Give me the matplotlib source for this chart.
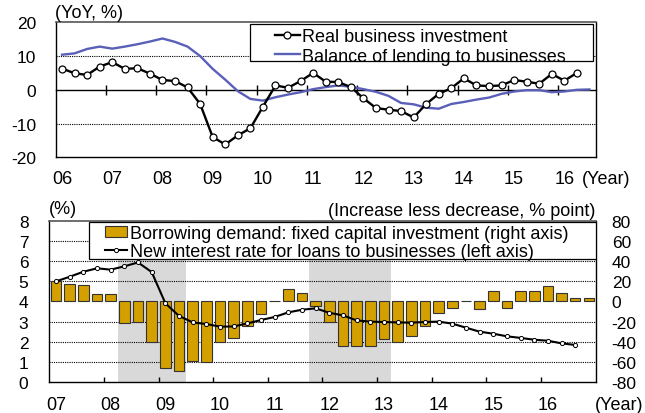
import numpy as np
import matplotlib
matplotlib.use("Agg")
import matplotlib.pyplot as plt
from matplotlib.patches import Rectangle, Patch
from matplotlib.lines import Line2D

plt.rcParams["font.family"] = ["Liberation Sans", "DejaVu Sans"]
plt.rcParams["font.size"] = 13
plt.rcParams["axes.unicode_minus"] = False

# --- top panel: quarterly, from 2006Q1 (YoY, %) ---
invest = [6.3, 4.9, 4.4, 6.9, 8.2, 6.2, 6.4, 4.8, 2.9, 2.6,
          0.7, -4.2, -14.0, -16.2, -13.5, -11.4, -5.0, 1.3, 0.6, 2.6,
          5.0, 2.4, 2.3, 0.8, -2.5, -5.4, -5.9, -6.3, -8.2, -4.2,
          -1.2, 0.5, 3.4, 1.3, 1.1, 1.3, 2.9, 2.4, 1.8, 4.7,
          2.7, 5.0]
lending = [10.4, 10.8, 12.1, 12.8, 12.2, 12.8, 13.5, 14.3, 15.2, 14.2,
           12.8, 10.0, 6.2, 3.0, -0.4, -2.7, -3.2, -2.2, -1.4, -0.7,
           0.2, 0.8, 1.3, 0.9, 0.2, -0.6, -1.8, -3.9, -4.3, -5.3,
           -5.6, -4.2, -3.6, -2.9, -2.3, -1.2, -0.5, -0.1, -0.1, -0.7,
           -0.5, 0.0, 0.1]
top_years = ["06", "07", "08", "09", "10", "11", "12", "13", "14", "15", "16"]

# --- bottom panel: quarterly, from 2007Q1 ---
borrow = [20, 17, 16.5, 7.5, 7, -21.5, -20.5, -40, -66.5, -69,
          -59.5, -60, -40, -36, -24, -12.5, 0, 12, 8.5, -4.5,
          -20, -44, -44, -44, -37, -40, -34, -24, -11, -6,
          0, -7.5, 10, -6.5, 10.5, 10.5, 15, 8, 3, 3.5]
rate = [5.0, 5.23, 5.48, 5.65, 5.58, 5.75, 5.94, 5.46, 3.91, 3.28,
        2.96, 2.88, 2.75, 2.76, 2.91, 3.08, 3.23, 3.46, 3.59, 3.66,
        3.44, 3.31, 3.06, 3.0, 2.98, 2.96, 2.95, 2.98, 3.0, 2.9,
        2.7, 2.5, 2.4, 2.27, 2.19, 2.1, 2.05, 1.92, 1.84]
bottom_years = ["07", "08", "09", "10", "11", "12", "13", "14", "15", "16"]
shaded = [(2008.25, 2009.5), (2011.75, 2013.25)]

BLUE = "#5a5fb8"
GOLD = "#d4a000"


def quarters(start, n):
    return start + (np.arange(n) + 0.5) / 4


fig = plt.figure(figsize=(6.45, 4.14), dpi=100, facecolor="white")

# ---------------- top panel ----------------
ax1 = fig.add_axes([0.0864, 0.6176, 0.8372, 0.3261])
ax1.set_xlim(2006, 2016.75)
ax1.set_ylim(-20, 20)
for v in (-10, 10):
    ax1.axhline(v, color="k", lw=0.8, ls=(0, (1, 1)), zorder=1)
ax1.plot(quarters(2006, len(lending)), lending, color=BLUE, lw=1.7, zorder=3)
ax1.plot(quarters(2006, len(invest)), invest, color="k", lw=1.7, marker="o",
         ms=5, mfc="white", mec="k", mew=0.9, zorder=4)

ax1.set_yticks([-20, -10, 0, 10, 20])
ax1.set_yticklabels(["-20", "-10", "0", "10", "20"])
ax1.tick_params(axis="y", length=0, pad=14, labelsize=12.5)
ax1.set_xticks(np.arange(2006, 2017) + 0.125)
ax1.set_xticklabels(top_years)
ax1.tick_params(axis="x", length=0, pad=9)
for s in ("left", "right", "bottom"):
    ax1.spines[s].set_color("k")
    ax1.spines[s].set_linewidth(1.0)
ax1.spines["top"].set_color("#555555")
ax1.spines["top"].set_linewidth(1.2)

# zero line with year ticks crossing it
zero = ax1.secondary_xaxis(0.5)
zero.set_xticks(np.arange(2007, 2017))
zero.tick_params(direction="inout", length=7, width=1, labeltop=False, labelbottom=False)
for s in zero.spines.values():
    s.set_color("k")
    s.set_linewidth(1.0)

ax1.add_patch(Rectangle((0.3598, 0.711), 0.6358, 0.274, transform=ax1.transAxes,
                        facecolor="white", edgecolor="k", lw=0.9, zorder=5))
h_top = [Line2D([], [], color="k", lw=1.7, marker="o", ms=5, mfc="white", mec="k", mew=0.9),
         Line2D([], [], color=BLUE, lw=1.7)]
leg1 = ax1.legend(h_top, ["Real business investment", "Balance of lending to businesses"],
                  loc="upper left", bbox_to_anchor=(0.406, 0.955), frameon=False,
                  borderpad=0, borderaxespad=0, handlelength=1.38, handletextpad=0.1,
                  labelspacing=0.13, numpoints=1, fontsize=13)
leg1.set_zorder(6)

fig.text(55 / 645, 1 - 13.3 / 414, "(YoY, %)", ha="left", va="center")
fig.text(606 / 645, 1 - 180 / 414, "(Year)", ha="center", va="center")

# ---------------- bottom panel ----------------
ax2 = fig.add_axes([0.0764, 0.0749, 0.8471, 0.3889])
tw = ax2.twinx()
ax2.set_zorder(tw.get_zorder() + 1)
ax2.patch.set_visible(False)
tw.patch.set_visible(True)
tw.patch.set_facecolor("white")

ax2.set_xlim(2007, 2017)
ax2.set_ylim(0, 8)
tw.set_ylim(-80, 80)

for a, b in shaded:
    tw.axvspan(a, b, color="#d9d9d9", lw=0, zorder=0)
for v in (-60, -40, -20, 20, 40, 60):
    tw.axhline(v, color="k", lw=0.8, ls=(0, (1, 1)), zorder=1)
tw.bar(quarters(2007, len(borrow)), borrow, width=0.195, color=GOLD,
       edgecolor="#333333", lw=0.8, zorder=2)
ax2.plot(quarters(2007, len(rate)), rate, color="k", lw=1.5, marker="o",
         ms=3, mfc="white", mec="k", mew=0.7, zorder=3)

ax2.set_yticks(range(0, 9))
ax2.tick_params(axis="y", length=0, pad=15, labelsize=12.5)
tw.set_yticks(range(-80, 81, 20))
tw.set_yticklabels([str(v) for v in range(-80, 81, 20)])
tw.tick_params(axis="y", length=0, pad=11.5, labelsize=12.5)

ax2.set_xticks(np.arange(2008, 2017))
ax2.set_xticklabels([])
ax2.tick_params(axis="x", which="major", direction="in", length=3.5, width=1)
ax2.set_xticks(np.arange(2007, 2017) + 0.125, minor=True)
ax2.set_xticklabels(bottom_years, minor=True)
ax2.tick_params(axis="x", which="minor", length=0, pad=10)

for s in tw.spines.values():
    s.set_visible(False)
for s in ("left", "right", "bottom"):
    ax2.spines[s].set_color("k")
    ax2.spines[s].set_linewidth(1.0)
ax2.spines["top"].set_color("#555555")
ax2.spines["top"].set_linewidth(1.2)

ax2.add_patch(Rectangle((0.0732, 0.762), 0.9268, 0.232, transform=ax2.transAxes,
                        facecolor="white", edgecolor="k", lw=0.9, zorder=5))
h_bot = [Patch(facecolor=GOLD, edgecolor="#333333", lw=0.8),
         Line2D([], [], color="k", lw=1.5, marker="o", ms=3, mfc="white", mec="k", mew=0.7)]
leg2 = ax2.legend(h_bot, ["Borrowing demand: fixed capital investment (right axis)",
                          "New interest rate for loans to businesses (left axis)"],
                  loc="upper left", bbox_to_anchor=(0.1026, 0.975), frameon=False,
                  borderpad=0, borderaxespad=0, handlelength=1.22, handleheight=0.55,
                  handletextpad=0.15, labelspacing=0.06, numpoints=1, fontsize=13)
leg2.set_zorder(6)

fig.text(49.3 / 645, 1 - 210 / 414, "(%)", ha="left", va="center")
fig.text(595.7 / 645, 1 - 211 / 414, "(Increase less decrease, % point)", ha="right", va="center")
fig.text(619 / 645, 1 - 406 / 414, "(Year)", ha="center", va="center")

fig.savefig("out.png", dpi=100, facecolor="white")
